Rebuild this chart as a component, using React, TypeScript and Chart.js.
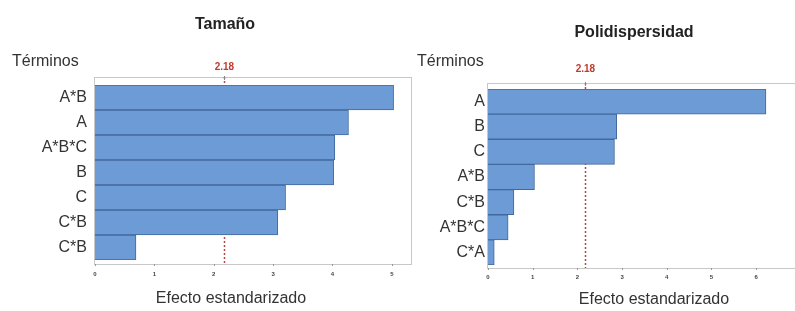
import { useEffect, useRef } from "react";
import { Chart, registerables } from "chart.js";

Chart.register(...registerables);

// ---- data ----
const tamanoTerms = ["A*B", "A", "A*B*C", "B", "C", "C*B", "C*B"];
const tamanoEffects = [5.03, 4.27, 4.04, 4.02, 3.21, 3.08, 0.69];
const tamanoTickValues = [0, 1, 2, 3, 4, 5];

const poliTerms = ["A", "B", "C", "A*B", "C*B", "A*B*C", "C*A"];
const poliEffects = [6.22, 2.88, 2.83, 1.04, 0.58, 0.45, 0.14];
const poliTickValues = [0, 1, 2, 3, 4, 5, 6];

const criticalValue = 2.18;
const criticalLabel = "2.18";
const yAxisLabel = "Términos";
const xAxisLabel = "Efecto estandarizado";

const FONT = "'Liberation Sans', Arial, sans-serif";
const BAR_FILL = "#6c9bd6";
const BAR_BORDER = "#42689c";
const TEXT = "#333333";
const RED = "#c0392b";

type Cfg = {
  title: string;
  terms: string[];
  values: number[];
  tickValues: number[];
  xMax: number;
  width: number;
  yAxisWidth: number;
  padTop: number;
  padRight: number;
  xAxisHeight: number;
  yLabelPad: number;
  xTickPad: number;
  frameTopExt: number;
  frameBotExt: number;
  titleX: number;
  titleY: number;
  terminosX: number;
  terminosY: number;
  critY: number;
  xTitleX: number;
  xTitleY: number;
};

function ParetoChart({ cfg, left }: { cfg: Cfg; left: number }) {
  const ref = useRef<HTMLCanvasElement | null>(null);
  useEffect(() => {
    if (!ref.current) return;
    const decor = {
      id: "decor",
      beforeDatasetsDraw(chart: any) {
        const { ctx, chartArea } = chart;
        const x = chart.scales.x;
        const top = chartArea.top - cfg.frameTopExt;
        const bottom = chartArea.bottom + cfg.frameBotExt;
        ctx.save();
        // frame
        ctx.strokeStyle = "#c8c8c8";
        ctx.lineWidth = 1;
        ctx.strokeRect(
          Math.round(chartArea.left) - 0.5,
          Math.round(top) + 0.5,
          Math.round(chartArea.right - chartArea.left) + (cfg.padRight === 0 ? 5 : 0),
          Math.round(bottom - top)
        );
        // small tick marks on bottom axis
        ctx.strokeStyle = "#999";
        for (const v of cfg.tickValues) {
          const px = Math.round(x.getPixelForValue(v)) + 0.5;
          ctx.beginPath();
          ctx.moveTo(px, bottom);
          ctx.lineTo(px, bottom + 2);
          ctx.stroke();
        }
        // critical line
        const cx = Math.round(x.getPixelForValue(criticalValue)) + 0.5;
        ctx.strokeStyle = "#b5484a";
        ctx.lineWidth = 1.5;
        ctx.setLineDash([2, 2]);
        ctx.beginPath();
        ctx.moveTo(cx, top);
        ctx.lineTo(cx, bottom);
        ctx.stroke();
        ctx.setLineDash([]);
        // top tick
        ctx.strokeStyle = "#888";
        ctx.lineWidth = 1;
        ctx.beginPath();
        ctx.moveTo(cx, top - 1);
        ctx.lineTo(cx, top + 3);
        ctx.stroke();
        ctx.restore();
      },
      afterDraw(chart: any) {
        const { ctx } = chart;
        const x = chart.scales.x;
        ctx.save();
        ctx.textBaseline = "middle";
        ctx.fillStyle = "#222";
        ctx.font = `bold 16px ${FONT}`;
        ctx.textAlign = "center";
        ctx.fillText(cfg.title, cfg.titleX, cfg.titleY);
        ctx.fillStyle = TEXT;
        ctx.font = `16px ${FONT}`;
        ctx.textAlign = "left";
        ctx.fillText(yAxisLabel, cfg.terminosX, cfg.terminosY);
        ctx.textAlign = "center";
        ctx.fillText(xAxisLabel, cfg.xTitleX, cfg.xTitleY);
        ctx.fillStyle = RED;
        ctx.font = `bold 10px ${FONT}`;
        ctx.fillText(criticalLabel, x.getPixelForValue(criticalValue), cfg.critY);
        ctx.restore();
      },
    };
    const chart = new Chart(ref.current, {
      type: "bar",
      data: {
        labels: cfg.terms,
        datasets: [
          {
            data: cfg.values,
            backgroundColor: BAR_FILL,
            borderColor: BAR_BORDER,
            borderWidth: 1,
            categoryPercentage: 1,
            barPercentage: 1,
          },
        ],
      },
      options: {
        indexAxis: "y",
        responsive: false,
        animation: false,
        layout: { padding: { top: cfg.padTop, right: cfg.padRight, left: 0, bottom: 0 } },
        plugins: { legend: { display: false }, tooltip: { enabled: false }, title: { display: false } },
        scales: {
          x: {
            type: "linear",
            min: 0,
            max: cfg.xMax,
            afterFit: (s: any) => {
              s.height = cfg.xAxisHeight;
            },
            afterBuildTicks: (s: any) => {
              s.ticks = cfg.tickValues.map((v) => ({ value: v }));
            },
            grid: { display: false, drawTicks: false },
            border: { display: false },
            ticks: {
              font: { size: 6, family: FONT, weight: "bold" },
              color: "#444",
              padding: cfg.xTickPad,
              maxRotation: 0,
              autoSkip: false,
            },
          },
          y: {
            afterFit: (s: any) => {
              s.width = cfg.yAxisWidth;
            },
            grid: { display: false, drawTicks: false },
            border: { display: false },
            ticks: {
              font: { size: 16, family: FONT },
              color: TEXT,
              padding: cfg.yLabelPad,
              autoSkip: false,
            },
          },
        },
      },
      plugins: [decor],
    } as any);
    return () => chart.destroy();
  }, [cfg]);
  return (
    <canvas
      ref={ref}
      width={cfg.width}
      height={311}
      style={{ position: "absolute", left, top: 0, width: cfg.width, height: 311 }}
    />
  );
}

const tamanoCfg: Cfg = {
  title: "Tamaño",
  terms: tamanoTerms,
  values: tamanoEffects,
  tickValues: tamanoTickValues,
  xMax: 5.34,
  width: 420,
  yAxisWidth: 95,
  padTop: 85,
  padRight: 8,
  xAxisHeight: 51,
  yLabelPad: 8,
  xTickPad: 11,
  frameTopExt: 8,
  frameBotExt: 4,
  titleX: 225,
  titleY: 25,
  terminosX: 12,
  terminosY: 62,
  critY: 67,
  xTitleX: 231,
  xTitleY: 299,
};

const poliCfg: Cfg = {
  title: "Polidispersidad",
  terms: poliTerms,
  values: poliEffects,
  tickValues: poliTickValues,
  xMax: 6.87,
  width: 395,
  yAxisWidth: 88,
  padTop: 89,
  padRight: 0,
  xAxisHeight: 46,
  yLabelPad: 3,
  xTickPad: 9,
  frameTopExt: 6,
  frameBotExt: 3,
  titleX: 234,
  titleY: 33,
  terminosX: 17,
  terminosY: 62,
  critY: 69,
  xTitleX: 254,
  xTitleY: 300,
};

export default function App() {
  return (
    <div style={{ position: "fixed", left: 0, top: 0, width: 795, height: 311, background: "#fff" }}>
      <ParetoChart cfg={tamanoCfg} left={0} />
      <ParetoChart cfg={poliCfg} left={400} />
    </div>
  );
}
